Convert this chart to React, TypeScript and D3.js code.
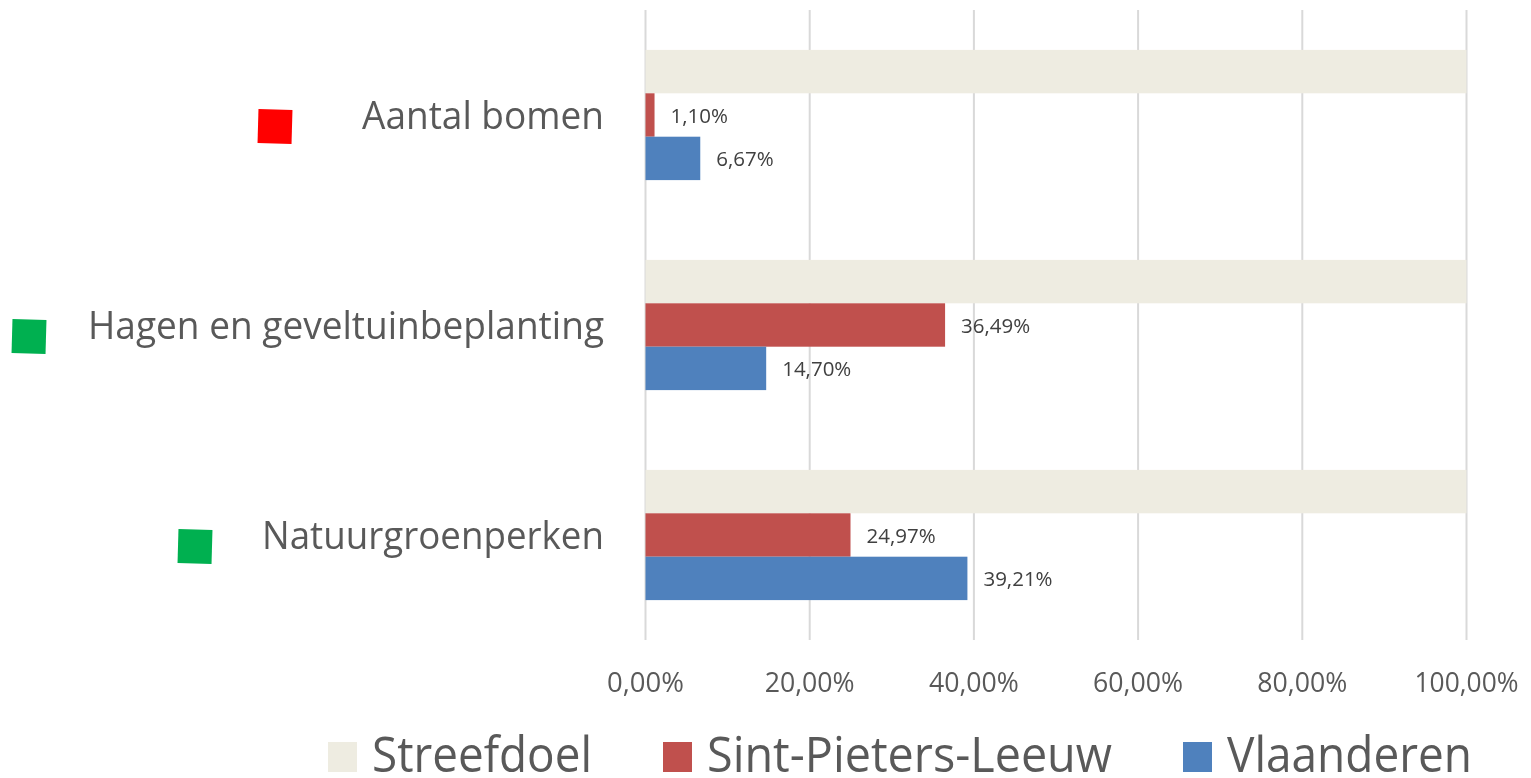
import { useEffect, useRef } from 'react';
import { scaleBand, scaleLinear, select } from 'd3';

const categories = ['Aantal bomen', 'Hagen en geveltuinbeplanting', 'Natuurgroenperken'];
const seriesNames = ['Streefdoel', 'Sint-Pieters-Leeuw', 'Vlaanderen'];
const streefdoel = [100, 100, 100];
const sintPietersLeeuw = [1.1, 36.49, 24.97];
const vlaanderen = [6.67, 14.7, 39.21];
const ticks = [0, 20, 40, 60, 80, 100];
const status = ['#ff0000', '#00b050', '#00b050'];

const colors = ['#eeece1', '#c0504d', '#4f81bd'];
const fmt = (v: number) => v.toFixed(2).replace('.', ',') + '%';

export default function App() {
  const svgRef = useRef<SVGSVGElement>(null);

  useEffect(() => {
    document.body.style.margin = '0';
    document.documentElement.style.overflow = 'hidden';

    const width = 1531;
    const height = 778;
    const font = '"Open Sans", sans-serif';
    const svg = select(svgRef.current);
    svg.selectAll('*').remove();
    svg.attr('width', width).attr('height', height);

    const x = scaleLinear().domain([0, 100]).range([645.5, 1466.5]);
    const y = scaleBand().domain(categories).range([10, 640]).padding(0);
    const inner = scaleBand()
      .domain(seriesNames)
      .range([y.bandwidth() * 0.19, y.bandwidth() * 0.81]);

    // rasterlijnen
    svg
      .append('g')
      .selectAll('line')
      .data(ticks)
      .enter()
      .append('line')
      .attr('x1', (d) => x(d))
      .attr('x2', (d) => x(d))
      .attr('y1', 10)
      .attr('y2', 640)
      .attr('stroke', '#d9d9d9')
      .attr('stroke-width', 2);

    svg
      .append('g')
      .selectAll('text')
      .data(ticks)
      .enter()
      .append('text')
      .attr('x', (d) => x(d))
      .attr('y', 692)
      .attr('text-anchor', 'middle')
      .attr('font-family', font)
      .attr('font-size', 27)
      .attr('fill', '#595959')
      .attr('textLength', (d) => (d === 100 ? 104 : d === 0 ? 77 : 90))
      .attr('lengthAdjust', 'spacingAndGlyphs')
      .text((d) => fmt(d));

    const series = [streefdoel, sintPietersLeeuw, vlaanderen];
    const group = svg
      .selectAll('g.cat')
      .data(categories)
      .enter()
      .append('g')
      .attr('class', 'cat')
      .attr('transform', (d) => `translate(0, ${y(d)})`);

    seriesNames.forEach((name, si) => {
      group
        .append('rect')
        .attr('x', x(0))
        .attr('y', inner(name)!)
        .attr('width', (_, i) => x(series[si][i]) - x(0))
        .attr('height', inner.bandwidth())
        .attr('fill', colors[si]);
      if (si > 0) {
        group
          .append('text')
          .attr('x', (_, i) => x(series[si][i]) + 16)
          .attr('y', inner(name)! + inner.bandwidth() / 2 + 8)
          .attr('font-family', font)
          .attr('font-size', 20.5)
          .attr('fill', '#404040')
          .text((_, i) => fmt(series[si][i]));
      }
    });

    // categorielabels
    const labelW = [242, 516, 342];
    group
      .append('text')
      .attr('x', 604)
      .attr('y', y.bandwidth() / 2 + 14)
      .attr('text-anchor', 'end')
      .attr('font-family', font)
      .attr('font-size', 39)
      .attr('fill', '#595959')
      .attr('textLength', (_, i) => labelW[i])
      .attr('lengthAdjust', 'spacingAndGlyphs')
      .text((d) => d);

    // statusblokjes
    const markerX = [258, 12, 178];
    group
      .append('rect')
      .attr('x', (_, i) => markerX[i])
      .attr('y', y.bandwidth() / 2 - 5.5)
      .attr('width', 34)
      .attr('height', 34)
      .attr('fill', (_, i) => status[i])
      .attr(
        'transform',
        (_, i) => `rotate(1.6 ${markerX[i] + 17} ${y.bandwidth() / 2 + 11.5})`
      );

    // legenda
    const legX = [328, 663, 1183];
    const legW = [220, 405, 245];
    const legend = svg
      .append('g')
      .selectAll('g')
      .data(seriesNames)
      .enter()
      .append('g')
      .attr('transform', (_, i) => `translate(${legX[i]}, 0)`);
    legend
      .append('rect')
      .attr('x', 0)
      .attr('y', 742)
      .attr('width', 29)
      .attr('height', 30)
      .attr('fill', (_, i) => colors[i]);
    legend
      .append('text')
      .attr('x', 44)
      .attr('y', 772)
      .attr('font-family', font)
      .attr('font-size', 49)
      .attr('fill', '#595959')
      .attr('textLength', (_, i) => legW[i])
      .attr('lengthAdjust', 'spacingAndGlyphs')
      .text((d) => d);
  }, []);

  return (
    <div style={{ position: 'fixed', left: 0, top: 0 }}>
      <svg ref={svgRef} style={{ display: 'block' }}></svg>
    </div>
  );
}
